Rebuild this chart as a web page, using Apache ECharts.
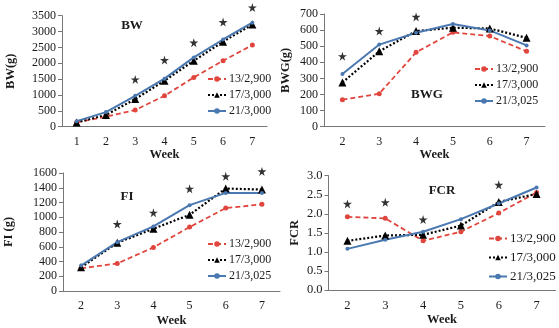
<!DOCTYPE html>
<html><head><meta charset="utf-8">
<script src="https://cdn.jsdelivr.net/npm/echarts@6/dist/echarts.min.js"></script>
<style>html,body{margin:0;padding:0;background:#fff}#c{width:559px;height:328px}</style>
</head><body><div id="c"></div>
<script>
// ---- data ----
const bwWeeks = ['1','2','3','4','5','6','7'];
const weeks = ['2','3','4','5','6','7'];
const names1 = ['13/2,900','17/3,000','21/3,000'];
const names = ['13/2,900','17/3,000','21/3,025'];

const bwRed   = [135, 315, 525, 975, 1555, 2080, 2575];
const bwBlack = [135, 370, 870, 1450, 2080, 2680, 3225];
const bwBlue  = [175, 460, 975, 1515, 2185, 2750, 3280];
const bwStar  = ['-', '-', 1490, 2100, 2650, 3300, 3760];

const bwgRed   = [168, 205, 462, 586, 563, 468];
const bwgBlack = [275, 468, 594, 615, 610, 552];
const bwgBlue  = [327, 510, 584, 638, 598, 505];
const bwgStar  = [438, 594, 682, '-', '-', '-'];

const fiRed   = [308, 373, 591, 867, 1124, 1175];
const fiBlack = [322, 653, 844, 1033, 1390, 1375];
const fiBlue  = [345, 662, 876, 1164, 1330, 1330];
const fiStar  = ['-', 907, 1062, 1387, 1556, 1622];

const fcrRed   = [1.92, 1.88, 1.29, 1.53, 2.02, 2.56];
const fcrBlack = [1.29, 1.43, 1.45, 1.69, 2.31, 2.52];
const fcrBlue  = [1.08, 1.32, 1.53, 1.86, 2.27, 2.69];
const fcrStar  = [2.26, 2.30, 1.85, '-', 2.76, '-'];

// ---- styling ----
const FONT = 'Liberation Serif';
const TXT = '#1a1a1a';
const RED = '#e0463d', BLACK = '#000000', BLUE = '#4a78b0';
const STAR = 'path://M50,0 L61,35 L98,35 L68,57 L79,91 L50,70 L21,91 L32,57 L2,35 L39,35 Z';

const grids = [
  {left: 62, top: 15.7, width: 205, height: 111},
  {left: 324, top: 14, width: 221, height: 112.7},
  {left: 63, top: 173, width: 217, height: 120},
  {left: 328.5, top: 175.7, width: 227, height: 114.3}
];
const yCfg = [
  {min: 0, max: 3500, interval: 500, name: 'BW(g)', gap: 45, dec: 0},
  {min: 0, max: 700, interval: 100, name: 'BWG(g)', gap: 32, dec: 0},
  {min: 0, max: 1600, interval: 200, name: 'FI (g)', gap: 48, dec: 0},
  {min: 0, max: 3, interval: 0.5, name: 'FCR', gap: 27, dec: 1}
];
const cats = [bwWeeks, weeks, weeks, weeks];
const fs = [12, 12, 12, 12.5];

const xAxis = cats.map((c, i) => ({
  type: 'category', gridIndex: i, data: c, boundaryGap: true,
  axisLine: {lineStyle: {color: '#777', width: 1}},
  axisTick: {show: false},
  axisLabel: {fontFamily: FONT, fontSize: fs[i], color: TXT, margin: 9},
  name: 'Week', nameLocation: 'middle', nameGap: i === 2 ? 23 : 22,
  nameTextStyle: {fontFamily: FONT, fontSize: 12.5, fontWeight: 'bold', color: TXT}
}));
const yAxis = yCfg.map((y, i) => ({
  type: 'value', gridIndex: i, min: y.min, max: y.max, interval: y.interval,
  axisLine: {show: true, lineStyle: {color: '#777', width: 1}},
  axisTick: {show: true, length: 4, lineStyle: {color: '#777'}},
  splitLine: {show: false},
  axisLabel: {fontFamily: FONT, fontSize: fs[i], color: TXT, margin: 6,
    formatter: v => v.toFixed(y.dec)},
  name: y.name, nameLocation: 'middle', nameGap: y.gap, nameRotate: 90,
  nameTextStyle: {fontFamily: FONT, fontSize: 12.5, fontWeight: 'bold', color: TXT}
}));

function trio(i, nm, r, k, b) {
  return [
    {name: nm[0], type: 'line', xAxisIndex: i, yAxisIndex: i, data: r,
     symbol: 'circle', symbolSize: 5, itemStyle: {color: RED},
     lineStyle: {color: RED, width: 1.8, type: [5, 3]}},
    {name: nm[1], type: 'line', xAxisIndex: i, yAxisIndex: i, data: k,
     symbol: 'triangle', symbolSize: 8, itemStyle: {color: BLACK},
     lineStyle: {color: BLACK, width: 2.2, type: [2, 2]}},
    {name: nm[2], type: 'line', xAxisIndex: i, yAxisIndex: i, data: b,
     symbol: 'circle', symbolSize: 4, itemStyle: {color: BLUE},
     lineStyle: {color: BLUE, width: 2}}
  ];
}
function stars(i, d) {
  return {name: 'sig' + i, type: 'scatter', xAxisIndex: i, yAxisIndex: i, data: d,
    symbol: STAR, symbolSize: 9, clip: false, itemStyle: {color: '#000'}, silent: true};
}

const series = [
  ...trio(0, names1, bwRed, bwBlack, bwBlue), stars(0, bwStar),
  ...trio(1, names, bwgRed, bwgBlack, bwgBlue), stars(1, bwgStar),
  ...trio(2, names, fiRed, fiBlack, fiBlue), stars(2, fiStar),
  ...trio(3, names, fcrRed, fcrBlack, fcrBlue), stars(3, fcrStar)
];

const legPos = [
  {left: 207, top: 73, data: names1, gap: 4, fsz: 12},
  {left: 474, top: 63, data: names, gap: 4, fsz: 12},
  {left: 207, top: 238, data: names, gap: 4, fsz: 12},
  {left: 488, top: 232, data: names, gap: 6, fsz: 13}
];
const legend = legPos.map(l => ({
  orient: 'vertical', left: l.left, top: l.top, data: l.data, padding: 0,
  itemWidth: 18, itemHeight: 7, itemGap: l.gap, selectedMode: false,
  textStyle: {fontFamily: FONT, fontSize: l.fsz, color: TXT, padding: [0,0,0,-2]}
}));

const titles = [['BW', 132, 26], ['BWG', 427, 95], ['FI', 127, 197], ['FCR', 442, 191]];
const graphic = titles.map(t => ({
  type: 'text', x: t[1], y: t[2],
  style: {text: t[0], font: 'bold 13px "Liberation Serif"', fill: TXT, align: 'center', verticalAlign: 'middle'}
}));

const chart = echarts.init(document.getElementById('c'), null, {renderer: 'canvas'});
chart.setOption({
  backgroundColor: '#fff', animation: false,
  grid: grids, xAxis, yAxis, series, legend, graphic
});
</script></body></html>
